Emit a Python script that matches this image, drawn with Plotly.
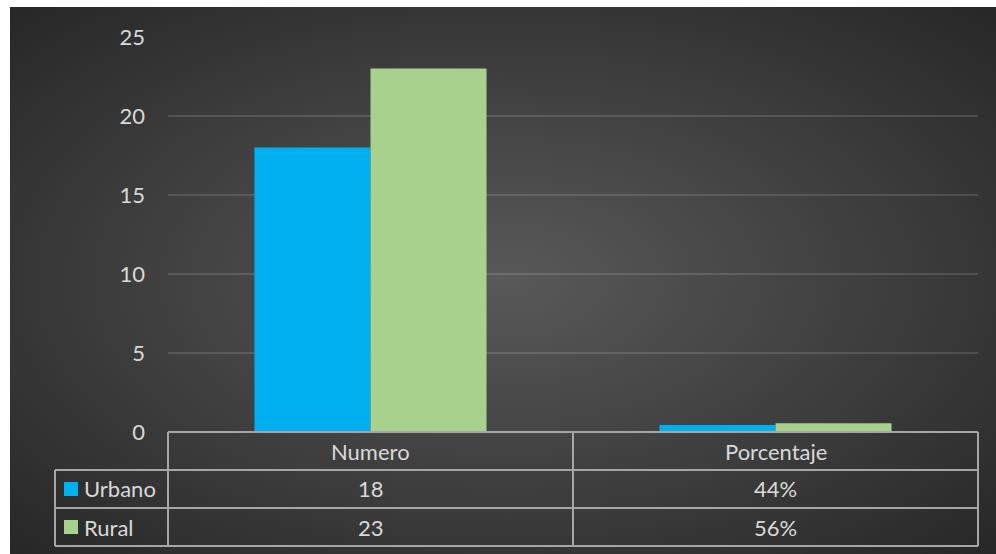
import plotly.graph_objects as go
import base64

categories = ["Numero", "Porcentaje"]
urbano = [18, 0.44]
rural = [23, 0.56]
series_names = ["Urbano", "Rural"]
y_ticks = [0, 5, 10, 15, 20, 25]

BLUE = "#00B0F0"
GREEN = "#A9D18E"
TXT = "#D9D9D9"
LINE = "#A6A6A6"
FONT = "Lato"
FS = 22

W, H = 996, 554
L, R, T, B = 168, 978, 37, 432  # plot area pixels


def px(x):
    return (x - L) / (R - L)


def py(y):
    return (B - y) / (B - T)


def fmt(cat, v):
    return f"{v:.0%}" if cat == "Porcentaje" else f"{v:g}"


fig = go.Figure()
fig.add_bar(x=categories, y=urbano, name=series_names[0], marker_color=BLUE,
            marker_line_width=0)
fig.add_bar(x=categories, y=rural, name=series_names[1], marker_color=GREEN,
            marker_line_width=0)

svg = '''<svg xmlns="http://www.w3.org/2000/svg" width="986" height="547" viewBox="0 0 986 547" preserveAspectRatio="none">
<defs><radialGradient id="g" cx="0.5" cy="0.5" r="0.72">
<stop offset="0" stop-color="#595959"/><stop offset="1" stop-color="#262626"/>
</radialGradient></defs><rect width="986" height="547" fill="url(#g)"/></svg>'''
src = "data:image/svg+xml;base64," + base64.b64encode(svg.encode()).decode()

fig.add_layout_image(source=src, xref="paper", yref="paper",
                     x=px(10), y=py(7), sizex=(996 - 10) / (R - L),
                     sizey=(554 - 7) / (B - T), xanchor="left", yanchor="top",
                     sizing="stretch", layer="below")

shapes = []


def hline(x0, x1, y):
    shapes.append(dict(type="line", xref="paper", yref="paper", x0=px(x0), x1=px(x1),
                       y0=py(y), y1=py(y), line=dict(color=LINE, width=2)))


def vline(x, y0, y1):
    shapes.append(dict(type="line", xref="paper", yref="paper", x0=px(x), x1=px(x),
                       y0=py(y0), y1=py(y1), line=dict(color=LINE, width=2)))

hline(L, R, 432)
hline(55, R, 470)
hline(55, R, 508)
hline(55, R, 546)
vline(L, 432, 546)
vline(573, 432, 546)
vline(R, 432, 546)
vline(55, 470, 546)

annotations = []
row_y = [489, 527]
colors = [BLUE, GREEN]
series_vals = [urbano, rural]
for i, name in enumerate(series_names):
    yc = row_y[i]
    shapes.append(dict(type="rect", xref="paper", yref="paper", x0=px(64), x1=px(78),
                       y0=py(yc - 7), y1=py(yc + 7), fillcolor=colors[i], line_width=0))
    annotations.append(dict(text=name, xref="paper", yref="paper", x=px(82), y=py(yc),
                            xanchor="left", yanchor="middle", showarrow=False,
                            font=dict(family=FONT, size=FS, color=TXT)))
    for j, cat in enumerate(categories):
        annotations.append(dict(text=fmt(cat, series_vals[i][j]), xref="x", yref="paper",
                                x=cat, y=py(yc), xanchor="center", yanchor="middle",
                                showarrow=False, font=dict(family=FONT, size=FS, color=TXT)))
for cat in categories:
    annotations.append(dict(text=cat, xref="x", yref="paper", x=cat, y=py(451),
                            xanchor="center", yanchor="middle", showarrow=False,
                            font=dict(family=FONT, size=FS, color=TXT)))

fig.update_layout(
    width=W, height=H,
    margin=dict(l=L, r=W - R, t=T, b=H - B, pad=0),
    paper_bgcolor="white",
    plot_bgcolor="rgba(0,0,0,0)",
    barmode="group", bargap=0.427, bargroupgap=0,
    showlegend=False,
    shapes=shapes, annotations=annotations,
    font=dict(family=FONT, color=TXT, size=FS),
    xaxis=dict(range=[-0.5, 1.5], showticklabels=False, showgrid=False,
               zeroline=False, showline=False, fixedrange=True),
    yaxis=dict(range=[0, 25], tickvals=y_ticks, showgrid=True,
               gridcolor="rgba(255,255,255,0.13)", gridwidth=2, zeroline=False,
               showline=False, ticks="", ticklabelstandoff=22,
               tickfont=dict(family=FONT, size=FS, color=TXT)),
)

fig.write_html("out.html", config={"displayModeBar": False},
               post_script="document.body.style.margin='0';document.body.style.overflow='hidden';")
